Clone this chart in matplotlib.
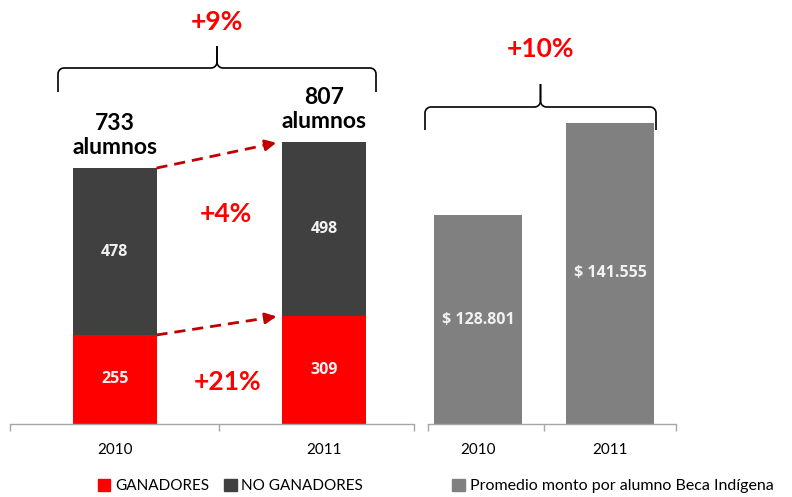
import numpy as np
import matplotlib
matplotlib.use("Agg")
import matplotlib.pyplot as plt
from matplotlib.patches import Patch

plt.rcParams['font.family'] = ['Lato', 'DejaVu Sans']

# datos
years = ["2010", "2011"]
ganadores = [255, 309]
no_ganadores = [478, 498]
promedio_monto = [128801, 141555]
monto_labels = ["$ 128.801", "$ 141.555"]
cambio_total = "+9%"
cambio_ganadores = "+21%"
cambio_no_ganadores = "+4%"
cambio_monto = "+10%"

RED = "#FF0000"
DARK = "#404040"
GRAY = "#808080"
ARROW = "#C00000"
AXIS = "#A6A6A6"
LABEL = "#F2F2F2"
LBL_FONT = ['Open Sans', 'DejaVu Sans']

fig = plt.figure(figsize=(7.92, 4.97), dpi=100)

# panel izquierdo: barras apiladas
ax1 = fig.add_axes([10/792, 73/497, 404/792, 404/497])
x = np.arange(len(years))
w1 = 0.40
totales = np.array(ganadores) + np.array(no_ganadores)
ax1.bar(x, ganadores, w1, color=RED)
ax1.bar(x, no_ganadores, w1, bottom=ganadores, color=DARK)
for i in range(len(years)):
    ax1.text(x[i], ganadores[i] / 2, str(ganadores[i]), color=LABEL, family=LBL_FONT,
             ha="center", va="center", fontsize=11.5, fontweight="bold")
    ax1.text(x[i], ganadores[i] + no_ganadores[i] / 2, str(no_ganadores[i]), family=LBL_FONT,
             color=LABEL, ha="center", va="center", fontsize=11.5, fontweight="bold")
    ax1.text(x[i], totales[i] + 30, f"{totales[i]}\nalumnos", ha="center", va="bottom",
             fontsize=16.5, fontweight="bold", linespacing=1.15)
ax1.set_xlim(-0.5, 1.43)
ax1.set_ylim(0, 1157)

# flechas punteadas
for y0, y1 in [(totales[0], totales[1]), (ganadores[0], ganadores[1])]:
    p0 = np.array([x[0] + w1 / 2, y0])
    p1 = np.array([x[1] - w1 / 2 - 0.015, y1])
    ax1.plot([p0[0], p1[0]], [p0[1], p1[1]], color=ARROW, lw=2, ls=(0, (4, 2.5)))
    ax1.annotate("", xy=p1, xytext=p1 - 0.12 * (p1 - p0),
                 arrowprops=dict(arrowstyle="-|>", color=ARROW, lw=2, mutation_scale=16))

ax1.text(0.53, 600, cambio_no_ganadores, color=RED, fontsize=19, fontweight="bold",
         ha="center", va="center")
ax1.text(0.54, 120, cambio_ganadores, color=RED, fontsize=19, fontweight="bold",
         ha="center", va="center")

# panel derecho
ax2 = fig.add_axes([428/792, 73/497, 248/792, 404/497])
w2 = 0.66
ax2.bar(x, promedio_monto, w2, color=GRAY)
ymin = 100000
for i in range(len(years)):
    ax2.text(x[i], (ymin + promedio_monto[i]) / 2, monto_labels[i], color=LABEL,
             family=LBL_FONT, ha="center", va="center", fontsize=11.5, fontweight="bold")
ax2.set_xlim(-0.379, 1.5)
ax2.set_ylim(ymin, 155700)

for ax, seps in [(ax1, [-0.5, 0.5, 1.43]), (ax2, [-0.379, 0.5, 1.5])]:
    for s in ["top", "left", "right"]:
        ax.spines[s].set_visible(False)
    ax.spines["bottom"].set_color(AXIS)
    ax.spines["bottom"].set_linewidth(1)
    ax.set_yticks([])
    ax.set_xticks(x)
    ax.set_xticklabels(years, fontsize=11)
    ax.tick_params(axis="x", which="major", length=0, pad=14)
    ax.set_xticks(seps, minor=True)
    ax.tick_params(axis="x", which="minor", length=5, color=AXIS, width=1)
    ax.patch.set_alpha(0)


# llaves (en pixeles de la figura)
ov = fig.add_axes([0, 0, 1, 1])
ov.set_xlim(0, 792)
ov.set_ylim(497, 0)
ov.axis("off")
ov.patch.set_alpha(0)


def brace(xa, xb, y, drop, tip):
    xm = (xa + xb) / 2
    r = 6
    t = np.linspace(0, np.pi / 2, 10)
    xs = [xa]
    ys = [y + drop]
    xs += list(xa + r - r * np.cos(t))
    ys += list(y + r - r * np.sin(t))
    xs += [xm - r]
    ys += [y]
    xs += list(xm - r + r * np.sin(t))
    ys += list(y - r + r * np.cos(t))
    xs += [xm, xm]
    ys += [y - r, y - tip]
    ov.plot(xs, ys, color="black", lw=1.2, solid_capstyle="butt")
    xs2 = [2 * xm - v for v in xs]
    ov.plot(xs2, ys, color="black", lw=1.2, solid_capstyle="butt")
    return xm


xm = brace(58, 376, 68, 24, 22)
ov.text(xm, 22, cambio_total, color=RED, fontsize=19, fontweight="bold",
        ha="center", va="center")
xm = brace(425, 656, 107, 23, 23)
ov.text(xm, 49, cambio_monto, color=RED, fontsize=19, fontweight="bold",
        ha="center", va="center")

# leyendas
fig.legend(handles=[Patch(color=RED, label="GANADORES"),
                    Patch(color=DARK, label="NO GANADORES")],
           loc="center left", bbox_to_anchor=(92/792, 1 - 486/497), ncol=2,
           frameon=False, fontsize=11, handlelength=0.8, handleheight=0.8,
           handletextpad=0.3, columnspacing=1.0, borderaxespad=0)
fig.legend(handles=[Patch(color=GRAY, label="Promedio monto por alumno Beca Indígena")],
           loc="center left", bbox_to_anchor=(446/792, 1 - 486/497),
           frameon=False, fontsize=11.5, handlelength=0.8, handleheight=0.8,
           handletextpad=0.3, borderaxespad=0)

fig.savefig("out.png", dpi=100)
